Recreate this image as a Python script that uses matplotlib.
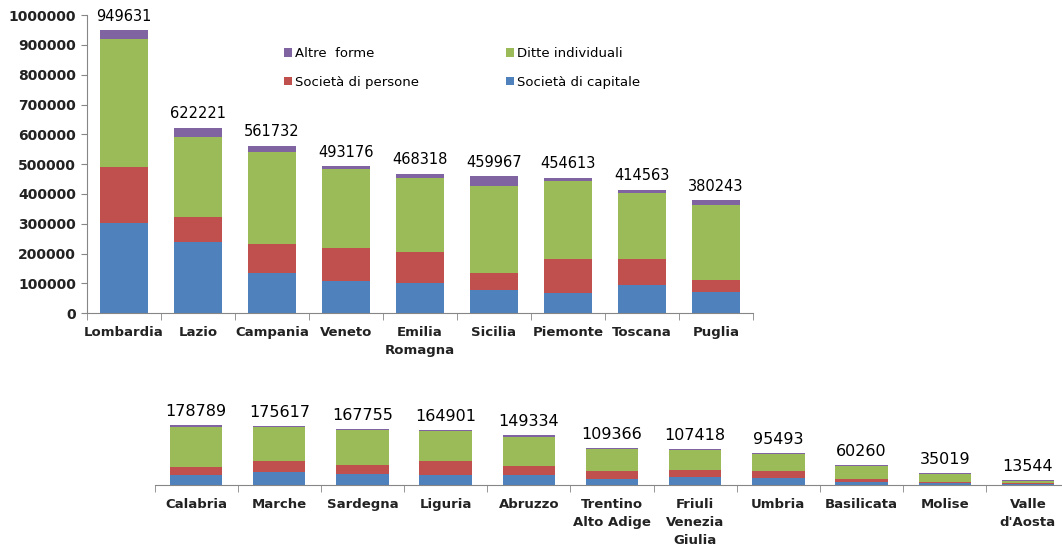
import matplotlib
matplotlib.use("Agg")
import matplotlib.pyplot as plt
import numpy as np

# top panel
regioni_top = ["Lombardia", "Lazio", "Campania", "Veneto", "Emilia\nRomagna",
               "Sicilia", "Piemonte", "Toscana", "Puglia"]
capitale_top = [304000, 240000, 134000, 108000, 103000, 78000, 68000, 94000, 70000]
persone_top = [186000, 82000, 97000, 110000, 104000, 56000, 113000, 89000, 42000]
ditte_top = [429000, 270000, 309000, 265000, 248000, 293000, 262000, 219000, 250000]
altre_top = [30631, 30221, 21732, 10176, 13318, 32967, 11613, 12563, 18243]
totali_top = [949631, 622221, 561732, 493176, 468318, 459967, 454613, 414563, 380243]

# bottom panel
regioni_bot = ["Calabria", "Marche", "Sardegna", "Liguria", "Abruzzo",
               "Trentino\nAlto Adige", "Friuli\nVenezia\nGiulia", "Umbria",
               "Basilicata", "Molise", "Valle\nd'Aosta"]
capitale_bot = [30000, 38000, 33000, 29000, 29000, 17000, 24000, 20000, 10000, 5000, 3000]
persone_bot = [23000, 33000, 27000, 42000, 27000, 25000, 21000, 23000, 7000, 5000, 3000]
ditte_bot = [119000, 101000, 103000, 89000, 88000, 65000, 61000, 51000, 41000, 24000, 7000]
altre_bot = [6789, 3617, 4755, 4901, 5334, 2366, 1418, 1493, 2260, 1019, 544]
totali_bot = [178789, 175617, 167755, 164901, 149334, 109366, 107418, 95493, 60260, 35019, 13544]

c_cap = "#4F81BD"
c_pers = "#C0504D"
c_ditte = "#9BBB59"
c_altre = "#8064A2"
grigio = "#868686"

fig = plt.figure(figsize=(10.62, 5.58), dpi=100)
ax1 = fig.add_axes([0.0819, 0.4385, 0.627, 0.5346])
ax2 = fig.add_axes([0.1455, 0.1308, 0.8545, 0.12])


def stacked(ax, nomi, cap, pers, ditte, altre, totali, width, fs_tot):
    x = np.arange(len(nomi))
    b1 = ax.bar(x, cap, width, color=c_cap, label="Società di capitale")
    b2 = ax.bar(x, pers, width, bottom=cap, color=c_pers, label="Società di persone")
    base = np.array(cap) + np.array(pers)
    b3 = ax.bar(x, ditte, width, bottom=base, color=c_ditte, label="Ditte individuali")
    base = base + np.array(ditte)
    b4 = ax.bar(x, altre, width, bottom=base, color=c_altre, label="Altre  forme")
    for xi, t in zip(x, totali):
        ax.annotate(str(t), (xi, t), xytext=(0, 4.5), textcoords="offset points",
                    ha="center", va="bottom", fontsize=fs_tot, clip_on=False)
    ax.set_xticks(x)
    ax.set_xticklabels(nomi, fontsize=9.5, fontweight="bold", color="#222222",
                       linespacing=1.5)
    ax.set_xticks(np.arange(len(nomi) + 1) - 0.5, minor=True)
    ax.tick_params(axis="x", which="major", length=0, pad=9)
    ax.tick_params(axis="x", which="minor", length=5, color=grigio, direction="out")
    for s in ["top", "right"]:
        ax.spines[s].set_visible(False)
    ax.spines["bottom"].set_color(grigio)
    return b1, b2, b3, b4


b1, b2, b3, b4 = stacked(ax1, regioni_top, capitale_top, persone_top, ditte_top,
                         altre_top, totali_top, 0.64, 10.5)
ax1.set_xlim(-0.5, len(regioni_top) - 0.5)
ax1.set_ylim(0, 1000000)
ax1.set_yticks(np.arange(0, 1000001, 100000))
ax1.set_yticklabels([str(v) for v in range(0, 1000001, 100000)],
                    fontsize=10, fontweight="bold", color="#222222")
ax1.spines["left"].set_color(grigio)
ax1.tick_params(axis="y", length=4, color=grigio, pad=4)

stacked(ax2, regioni_bot, capitale_bot, persone_bot, ditte_bot,
        altre_bot, totali_bot, 0.63, 11.5)
ax2.set_xlim(-0.5, 10.41)
ax2.set_ylim(0, 200000)
ax2.spines["left"].set_visible(False)
ax2.set_yticks([])

fig.legend([b4, b2, b3, b1],
           ["Altre  forme", "Società di persone", "Ditte individuali", "Società di capitale"],
           ncol=2, loc="upper left", bbox_to_anchor=(0.256, 0.937),
           frameon=False, fontsize=9.5, handlelength=0.6, handleheight=0.6,
           handletextpad=0.25, labelspacing=1.2, columnspacing=6.6)

fig.savefig("out.png", dpi=100)
